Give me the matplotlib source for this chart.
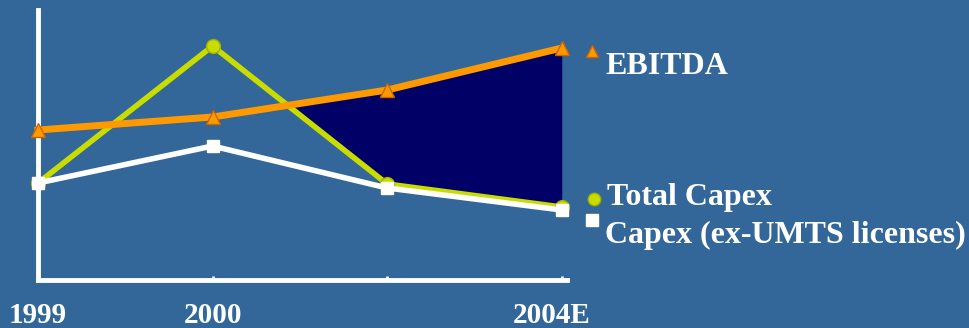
import numpy as np
import matplotlib.pyplot as plt
import matplotlib.transforms as mtransforms

years = ['1999', '2000', '', '2004E']
ebitda = [150, 163, 190, 232]
total_capex = [97, 234, 96, 73]
capex_ex_umts = [97, 134, 92, 70]

bg = '#336699'
orange = '#ff9900'
green = '#c8dc00'
navy = '#000066'

plt.rcParams['font.family'] = ['Liberation Serif', 'DejaVu Serif']

fig = plt.figure(figsize=(9.69, 3.28), dpi=100, facecolor=bg)
ax = fig.add_axes([38 / 969, 48 / 328, 529 / 969, 270 / 328])
ax.set_facecolor(bg)

x = np.arange(len(years))
e = np.array(ebitda, dtype=float)
c = np.array(total_capex, dtype=float)

# shaded gap where EBITDA runs above total capex (from 2000 onwards)
ax.fill_between(x[1:], e[1:], c[1:], where=e[1:] > c[1:], interpolate=True,
                color=navy, linewidth=0, zorder=1)

ax.plot(x, total_capex, color=green, lw=4, zorder=2, solid_capstyle='round')
ax.plot(x, total_capex, ls='none', marker='o', ms=10, mfc=green, mec='#a0b000',
        mew=1, zorder=2.5, clip_on=False)
ax.plot(x, capex_ex_umts, color='white', lw=4, zorder=3)
ax.plot(x, capex_ex_umts, ls='none', marker='s', ms=9, mfc='white', mec='white',
        zorder=3.5, clip_on=False)
ax.plot(x, ebitda, color=orange, lw=5, zorder=4, clip_on=False)
ax.plot(x, ebitda, ls='none', marker='^', ms=10, mfc=orange, mec='#cc6600',
        mew=1, zorder=4.5, clip_on=False)

ax.set_xlim(0, 3.03)
ax.set_ylim(0, 270)
for side in ('top', 'right'):
    ax.spines[side].set_visible(False)
for side in ('left', 'bottom'):
    ax.spines[side].set_color('white')
    ax.spines[side].set_linewidth(3.5)
ax.set_yticks([])
ax.set_xticks(x)
ax.tick_params(axis='x', direction='in', length=3, width=2, color='white',
               labelbottom=False)

# year labels under the axis; the last one sits a little left of its tick
shift = [0, 0, 0, -10]
for xi, label, dx in zip(x, years, shift):
    off = mtransforms.ScaledTranslation(dx / 100, 0, fig.dpi_scale_trans)
    ax.annotate(label, (xi, 0), xytext=(0, -25.5), textcoords='offset points',
                xycoords=ax.get_xaxis_transform() + off, ha='center', va='center',
                color='white', fontsize=21, fontweight='bold', annotation_clip=False)

# legend entries, placed to the right of the plot
font = dict(color='white', fontsize=23, fontweight='bold', va='center')
fig.text(605 / 969, 1 - 66 / 328, 'EBITDA', **font)
fig.text(607 / 969, 1 - 197 / 328, 'Total Capex', **font)
fig.text(605 / 969, 1 - 235 / 328, 'Capex (ex-UMTS licenses)', **font)
fig.lines.append(plt.Line2D([592 / 969], [1 - 51 / 328], transform=fig.transFigure,
                            marker='^', ms=9, mfc=orange, mec='#cc6600', ls='none'))
fig.lines.append(plt.Line2D([594 / 969], [1 - 199 / 328], transform=fig.transFigure,
                            marker='o', ms=9, mfc=green, mec='#a0b000', ls='none'))
fig.lines.append(plt.Line2D([592 / 969], [1 - 220 / 328], transform=fig.transFigure,
                            marker='s', ms=8, mfc='white', mec='white', ls='none'))

fig.savefig('out.png', dpi=100, facecolor=bg)
